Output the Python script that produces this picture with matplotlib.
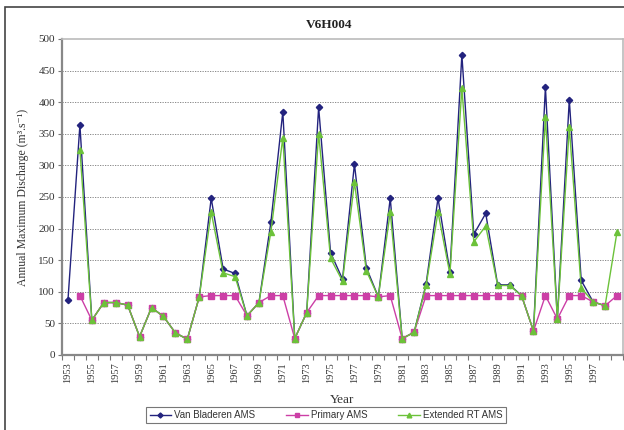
import matplotlib
matplotlib.use("Agg")
import matplotlib.pyplot as plt
import numpy as np
from matplotlib.patches import Rectangle

nan = np.nan
years = list(range(1953, 2000))

# Van Bladeren AMS (m3/s)
van_bladeren = [87, 364, 55, 83, 83, 79, 29, 75, 61, 35, 25, 92, 248, 136, 129,
                62, 83, 210, 385, 26, 67, 392, 162, 120, 302, 138, 92, 248, 26, 36,
                112, 248, 132, 475, 191, 224, 111, 111, 94, 38, 424, 57, 404, 118,
                84, 78, nan]
# Primary AMS
primary = [nan, 94, 55, 83, 83, 79, 29, 75, 61, 35, 25, 92, 94, 94, 94,
           62, 83, 94, 94, 26, 67, 94, 94, 94, 94, 94, 92, 94, 26, 36,
           94, 94, 94, 94, 94, 94, 94, 94, 94, 38, 94, 57, 94, 94,
           84, 78, 94]
# Extended RT AMS
extended = [nan, 325, 55, 83, 83, 79, 29, 75, 61, 35, 25, 92, 226, 130, 124,
            62, 83, 195, 344, 26, 67, 350, 153, 117, 273, 133, 92, 226, 26, 36,
            110, 226, 128, 422, 179, 204, 110, 110, 94, 38, 376, 57, 360, 106,
            84, 78, 195]
year_labels = [str(y) for y in years[:-1:2]]  # 1953 ... 1997

serif = ["Liberation Serif", "DejaVu Serif"]
sans = "Liberation Sans"

fig = plt.figure(figsize=(6.24, 4.30), dpi=100)
ax = fig.add_axes([62/624, 75/430, 561/624, 316/430])

x = np.arange(len(years))
ax.plot(x, van_bladeren, color="#23237e", lw=1.0, marker="D", ms=3.2,
        label="Van Bladeren AMS", zorder=3)
ax.plot(x, primary, color="#cc3fa6", lw=1.0, marker="s", ms=4.2,
        label="Primary AMS", zorder=4)
ax.plot(x, extended, color="#6cc23a", lw=1.0, marker="^", ms=4.2,
        label="Extended RT AMS", zorder=5)

ax.set_xlim(-0.5, len(years) - 0.5)
ax.set_ylim(0, 500)

# y axis
ax.set_yticks(np.arange(0, 501, 50))
ax.tick_params(axis="y", direction="out", length=3, width=0.8, color="#777777",
               labelsize=8, pad=2, labelcolor="#333333")
for lab in ax.get_yticklabels():
    lab.set_family(serif)
for v in range(50, 500, 50):
    ax.axhline(v, color="#777777", lw=0.6, ls=(0, (1.5, 1.5)), zorder=1)

# x axis: tick marks between categories, labels on odd years
ax.set_xticks(x[:-1:2])
ax.set_xticklabels(year_labels, rotation=90,
                   family=serif, fontsize=7.5, color="#333333")
ax.set_xticks(np.arange(-0.5, len(years), 1.0), minor=True)
ax.tick_params(axis="x", which="major", length=0, pad=5)
ax.tick_params(axis="x", which="minor", direction="out", length=3.5,
               width=0.8, color="#777777")

for s in ["left", "bottom"]:
    ax.spines[s].set_color("#888888")
    ax.spines[s].set_linewidth(1.6)
for s in ["top", "right"]:
    ax.spines[s].set_color("#bbbbbb")
    ax.spines[s].set_linewidth(1.2)

ax.set_xlabel("Year", family=serif, fontsize=9.5, color="#333333", labelpad=8)
ax.set_ylabel("Annual Maximum Discharge (m\u00b3.s\u207b\u00b9)", family=serif,
              fontsize=8.5, color="#333333", labelpad=7)

fig.text(329/624, 1 - 25/430, "V6H004", family=serif, fontweight="bold",
         fontsize=9.5, ha="center", va="center", color="#222222")

leg = fig.legend(loc="center", bbox_to_anchor=(326/624, 1 - 415/430), ncol=3,
                 prop={"family": sans, "size": 7}, frameon=True, fancybox=False,
                 borderpad=0.35, columnspacing=3.2, handlelength=2.2,
                 handletextpad=0.3, markerscale=0.8)
leg.get_frame().set_edgecolor("#555555")
leg.get_frame().set_linewidth(0.8)
for t in leg.get_texts():
    t.set_color("#333333")

# outer chart border
fig.patches.append(Rectangle((5/624, -0.1), 1.2, 1.1 - 7/430,
                             transform=fig.transFigure, fill=False,
                             edgecolor="#444444", lw=1.2))

plt.savefig("out.png", dpi=100)
